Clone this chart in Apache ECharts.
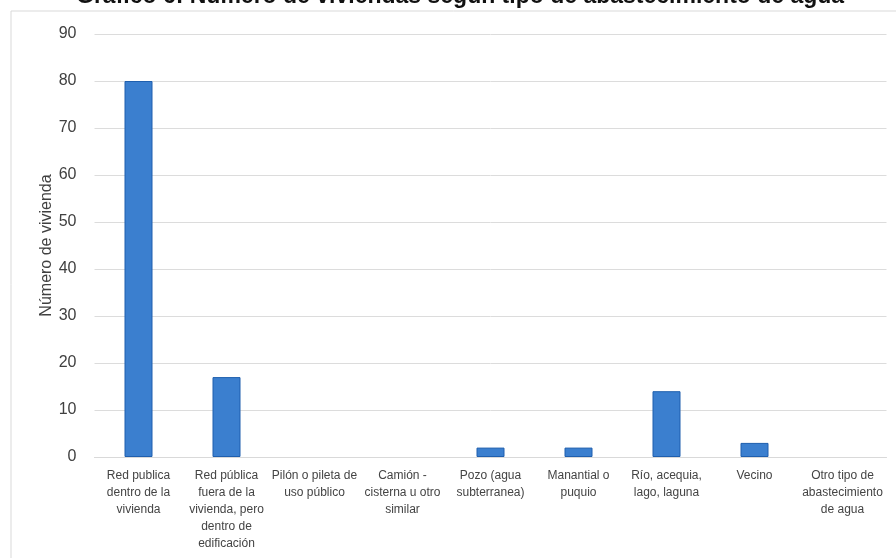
<!DOCTYPE html>
<html>
<head>
<meta charset="utf-8">
<script src="https://cdn.jsdelivr.net/npm/echarts@6/dist/echarts.min.js"></script>
<style>
html,body{margin:0;padding:0;background:#fff;}
#c{width:896px;height:558px;}
</style>
</head>
<body>
<div id="c"></div>
<script>
const titleText = 'Gráfico 6: Número de viviendas según tipo de abastecimiento de agua';
const categories = [
  'Red publica\ndentro de la\nvivienda',
  'Red pública\nfuera de la\nvivienda, pero\ndentro de\nedificación',
  'Pilón o pileta de\nuso público',
  'Camión -\ncisterna u otro\nsimilar',
  'Pozo (agua\nsubterranea)',
  'Manantial o\npuquio',
  'Río, acequia,\nlago, laguna',
  'Vecino',
  'Otro tipo de\nabastecimiento\nde agua'
];
const values = [80, 17, 0, 0, 2, 2, 14, 3, 0];
const yAxisName = 'Número de vivienda';

const chart = echarts.init(document.getElementById('c'));
chart.setOption({
  animation: false,
  title: {
    text: titleText,
    left: 71,
    top: -20,
    textStyle: {fontFamily: 'Liberation Sans, Arial, sans-serif', fontSize: 23, fontWeight: 'bold', color: '#111'}
  },
  graphic: [
    {type: 'line', shape: {x1: 11, y1: 11, x2: 896, y2: 11}, style: {stroke: '#d9d9d9', lineWidth: 1}},
    {type: 'line', shape: {x1: 11, y1: 11, x2: 11, y2: 558}, style: {stroke: '#d9d9d9', lineWidth: 1}}
  ],
  grid: {left: 94.5, right: 9.5, top: 34, bottom: 101, containLabel: false},
  xAxis: {
    type: 'category',
    data: categories,
    axisLine: {show: true, lineStyle: {color: '#d9d9d9'}},
    axisTick: {show: false},
    axisLabel: {
      interval: 0, margin: 10, color: '#444', fontSize: 12, lineHeight: 17,
      fontFamily: 'Liberation Sans Narrow, Arial Narrow, Liberation Sans, sans-serif'
    }
  },
  yAxis: {
    type: 'value',
    min: 0, max: 90, interval: 10,
    name: yAxisName,
    nameLocation: 'middle',
    nameGap: 40,
    nameMoveOverlap: false,
    nameTextStyle: {fontSize: 16, color: '#404040', fontFamily: 'Liberation Sans, Arial, sans-serif'},
    axisLine: {show: false},
    axisTick: {show: false},
    axisLabel: {margin: 18, fontSize: 16, color: '#404040', fontFamily: 'Liberation Sans Narrow, Arial Narrow, Liberation Sans, sans-serif'},
    splitLine: {lineStyle: {color: '#dcdcdc', width: 1}}
  },
  series: [{
    type: 'bar',
    data: values.map(v => ({value: v, itemStyle: {borderWidth: v ? 1 : 0}})),
    barWidth: 28,
    itemStyle: {color: '#3b7fcf', borderColor: '#1f5fae', borderWidth: 1}
  }]
});
</script>
</body>
</html>
